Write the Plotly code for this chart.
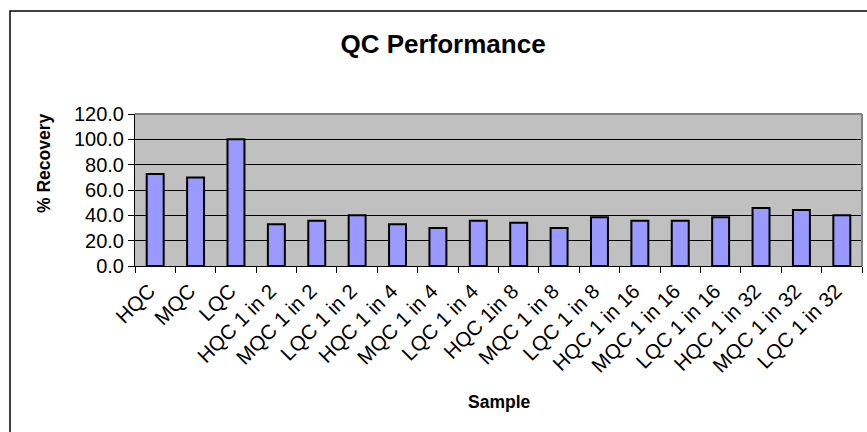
import plotly.graph_objects as go

samples = [
    "HQC", "MQC", "LQC",
    "HQC 1 in 2", "MQC 1 in 2", "LQC 1 in 2",
    "HQC 1 in 4", "MQC 1 in 4", "LQC 1 in 4",
    "HQC 1in 8", "MQC 1 in 8", "LQC 1 in 8",
    "HQC 1 in 16", "MQC 1 in 16", "LQC 1 in 16",
    "HQC 1 in 32", "MQC 1 in 32", "LQC 1 in 32",
]
recovery = [
    72.6, 69.8, 100.0,
    32.9, 35.8, 40.0,
    32.9, 30.0, 35.8,
    34.2, 30.0, 38.4,
    35.8, 35.8, 38.4,
    45.8, 44.2, 40.0,
]
y_ticks = [0, 20, 40, 60, 80, 100, 120]

W, H = 867, 432
L, R, T, B = 135, 5, 114, 166
pw, ph = W - L - R, H - T - B

def px_x(p):
    return (p - L) / pw

def px_y(p):
    return (H - B - p) / ph

FONT = "Liberation Sans, Arial, sans-serif"

fig = go.Figure(
    go.Bar(
        x=samples,
        y=recovery,
        marker=dict(color="#9999FF", line=dict(color="#000000", width=2)),
        width=0.42,
    )
)

fig.update_layout(
    width=W,
    height=H,
    margin=dict(l=L, r=R, t=T, b=B),
    paper_bgcolor="#FFFFFF",
    plot_bgcolor="#C0C0C0",
    showlegend=False,
    font=dict(family=FONT, color="#000000", size=19),
    title=dict(
        text="<b>QC Performance</b>",
        font=dict(family=FONT, size=26, color="#000000"),
        x=443 / W,
        xanchor="center",
        y=1 - 44 / H,
        yanchor="middle",
    ),
    xaxis=dict(
        type="category",
        tickangle=-45,
        tickson="boundaries",
        ticks="outside",
        ticklen=6,
        tickcolor="#000000",
        showline=True,
        linecolor="#000000",
        linewidth=1,
        showgrid=False,
        tickfont=dict(family=FONT, size=20.5),
        ticklabelshift=-6,
        ticklabelstandoff=4,
    ),
    yaxis=dict(
        range=[0, 120],
        tickvals=y_ticks,
        tickformat=".1f",
        ticks="outside",
        ticklen=6,
        tickcolor="#000000",
        showline=True,
        linecolor="#000000",
        linewidth=1,
        showgrid=True,
        gridcolor="#000000",
        gridwidth=1,
        zeroline=False,
        tickfont=dict(family=FONT, size=20),
    ),
)

# Axis titles
fig.add_annotation(text="<b>% Recovery</b>", textangle=-90, showarrow=False,
                   xref="paper", yref="paper", x=px_x(44), y=px_y(164),
                   xanchor="center", yanchor="middle",
                   font=dict(family=FONT, size=17.5))
fig.add_annotation(text="<b>Sample</b>", showarrow=False,
                   xref="paper", yref="paper", x=px_x(499), y=px_y(402),
                   xanchor="center", yanchor="middle",
                   font=dict(family=FONT, size=17.5))

# Plot-area frame: gray on top and right
fig.add_shape(type="line", xref="paper", yref="paper", x0=0, x1=1, y0=1, y1=1,
              line=dict(color="#808080", width=2))
fig.add_shape(type="line", xref="paper", yref="paper", x0=1, x1=1, y0=0, y1=1,
              line=dict(color="#808080", width=2))

# Chart-area border
fig.add_shape(type="rect", xref="paper", yref="paper",
              x0=px_x(10), x1=px_x(W + 20), y0=px_y(H + 20), y1=px_y(11),
              line=dict(color="#000000", width=1.5), layer="below")

fig.write_html("out.html")
